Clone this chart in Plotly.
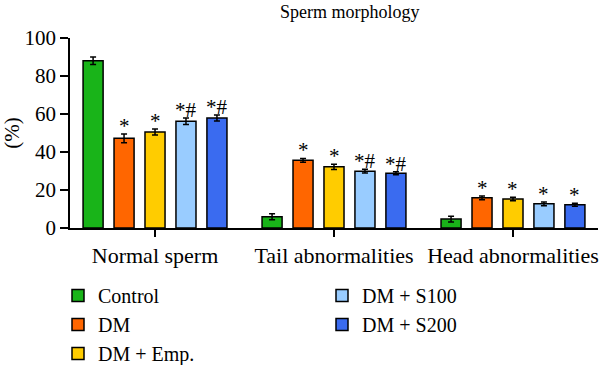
import plotly.graph_objects as go

categories = ["Normal sperm", "Tail abnormalities", "Head abnormalities"]
groups = ["Control", "DM", "DM + Emp.", "DM + S100", "DM + S200"]
colors = ["#19B419", "#FF6600", "#FFCC00", "#99CCFF", "#3A6BF0"]

values = {
    "Control":   [88.0, 5.9, 4.7],
    "DM":        [47.2, 35.6, 15.9],
    "DM + Emp.": [50.5, 32.2, 15.3],
    "DM + S100": [56.2, 29.9, 12.7],
    "DM + S200": [57.9, 28.8, 12.2],
}
errors = {
    "Control":   [2.0, 1.6, 1.5],
    "DM":        [2.3, 1.0, 1.0],
    "DM + Emp.": [1.6, 1.4, 0.9],
    "DM + S100": [1.7, 1.0, 1.0],
    "DM + S200": [1.6, 0.8, 0.8],
}
marks = {
    "Control":   ["", "", ""],
    "DM":        ["*", "*", "*"],
    "DM + Emp.": ["*", "*", "*"],
    "DM + S100": ["*#", "*#", "*"],
    "DM + S200": ["*#", "*#", "*"],
}
legend_rank = {"Control": 1, "DM + S100": 2, "DM": 3, "DM + S200": 4, "DM + Emp.": 5}

FONT = "Liberation Serif, Times New Roman, serif"
pitch = 0.173
bw = 0.112

fig = go.Figure()
annotations = []
for i, g in enumerate(groups):
    xs = [c + (i - 2) * pitch for c in range(len(categories))]
    fig.add_trace(go.Bar(
        x=xs, y=values[g], width=bw, name=g,
        marker=dict(color=colors[i], line=dict(color="black", width=1.5)),
        error_y=dict(type="data", array=errors[g], visible=True,
                     color="black", thickness=1.5, width=3),
        legendrank=legend_rank[g],
    ))
    for x, v, e, m in zip(xs, values[g], errors[g], marks[g]):
        if m:
            annotations.append(dict(
                x=x, y=v + e, xref="x", yref="y", text=m, showarrow=False,
                yanchor="bottom", yshift=-6,
                font=dict(family=FONT, size=21, color="black")))

plot_left, plot_w, plot_top, plot_h = 70, 528, 38, 190
annotations.append(dict(x=(350 - plot_left) / plot_w, y=1 + (plot_top - 12) / plot_h,
                        xref="paper", yref="paper", text="Sperm morphology",
                        showarrow=False, xanchor="center", yanchor="middle",
                        font=dict(family=FONT, size=18, color="black")))

fig.update_layout(
    width=600, height=365,
    margin=dict(l=plot_left, r=600 - plot_left - plot_w, t=plot_top,
                b=365 - plot_top - plot_h, autoexpand=False),
    paper_bgcolor="white", plot_bgcolor="white",
    barmode="overlay",
    font=dict(family=FONT, size=21, color="black"),
    showlegend=True,
    legend=dict(orientation="h", x=(58 - plot_left) / plot_w, y=-(276 - 228) / plot_h,
                xanchor="left", yanchor="top",
                entrywidth=219, font=dict(family=FONT, size=20, color="black"),
                traceorder="normal", itemwidth=30),
    xaxis=dict(range=[-0.475, 2.475], tickmode="array", tickvals=[0, 1, 2],
               ticktext=categories, showline=True, linecolor="black", linewidth=1.5,
               ticks="outside", ticklen=7, tickwidth=1.5, tickcolor="black",
               showgrid=False, zeroline=False, tickfont=dict(family=FONT, size=22),
               automargin=False),
    yaxis=dict(range=[0, 100], tickvals=[0, 20, 40, 60, 80, 100],
               showline=True, linecolor="black", linewidth=1.5,
               ticks="outside", ticklen=8, tickwidth=1.5, tickcolor="black",
               showgrid=False, zeroline=False, tickfont=dict(family=FONT, size=21),
               title=dict(text="(%)", font=dict(family=FONT, size=21), standoff=4),
               automargin=False),
    annotations=annotations,
)

fig.write_html("out.html", post_script="document.body.style.margin='0';",
               config={"displayModeBar": False})
